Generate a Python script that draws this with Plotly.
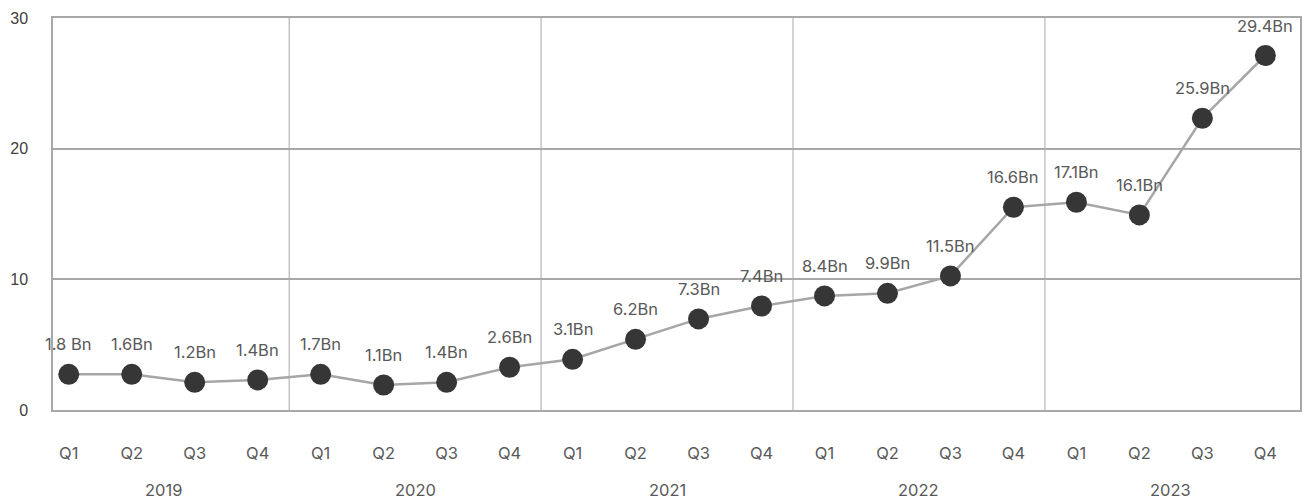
import plotly.graph_objects as go

quarters = ["Q1", "Q2", "Q3", "Q4"] * 5
years = ["2019", "2020", "2021", "2022", "2023"]
values = [2.73, 2.73, 2.12, 2.30, 2.73, 1.91, 2.12, 3.27, 3.88, 5.41,
          6.97, 7.96, 8.73, 8.93, 10.26, 15.52, 15.90, 14.93, 22.33, 27.13]
labels = ["1.8 Bn", "1.6Bn", "1.2Bn", "1.4Bn", "1.7Bn", "1.1Bn", "1.4Bn", "2.6Bn",
          "3.1Bn", "6.2Bn", "7.3Bn", "7.4Bn", "8.4Bn", "9.9Bn", "11.5Bn", "16.6Bn",
          "17.1Bn", "16.1Bn", "25.9Bn", "29.4Bn"]
y_ticks = [0, 10, 20, 30]

x = list(range(len(values)))
GRID = "#a8a8a8"
TXT = "#595959"
FONT = "Inter, Noto Sans, sans-serif"

fig = go.Figure()
fig.add_trace(go.Scatter(
    x=x, y=values, mode="lines+markers",
    line=dict(color="#a6a6a6", width=2.5),
    marker=dict(color="#363636", size=21),
    hoverinfo="skip", showlegend=False,
))

annotations = []
for xi, v, t in zip(x, values, labels):
    annotations.append(dict(x=xi, y=v, text=t, showarrow=False, yshift=30,
                            font=dict(family=FONT, size=16.5, color=TXT)))
for k, yr in enumerate(years):
    annotations.append(dict(x=4 * k + 1.5, y=0, yref="paper", yanchor="middle",
                            text=yr, showarrow=False, yshift=-80,
                            font=dict(family=FONT, size=16.5, color=TXT)))

shapes = []
for k in range(1, len(years)):
    shapes.append(dict(type="line", xref="x", yref="paper", x0=4 * k - 0.5, x1=4 * k - 0.5,
                       y0=0, y1=1, line=dict(color=GRID, width=1), layer="below"))

fig.update_layout(
    width=1310, height=502,
    margin=dict(l=53, r=8, t=18, b=92),
    paper_bgcolor="white", plot_bgcolor="white",
    annotations=annotations, shapes=shapes,
    xaxis=dict(range=[-0.25, 19.55], tickmode="array", tickvals=x, ticktext=quarters,
               showgrid=False, zeroline=False, showline=True, mirror=True,
               linecolor=GRID, linewidth=2, ticks="outside", ticklen=27,
               tickcolor="rgba(0,0,0,0)",
               tickfont=dict(family=FONT, size=16.5, color=TXT)),
    yaxis=dict(range=[0, 30], tickmode="array", tickvals=y_ticks,
               showgrid=True, gridcolor=GRID, gridwidth=2, zeroline=False,
               showline=True, mirror=True, linecolor=GRID, linewidth=1.5,
               ticks="outside", ticklen=20, tickcolor="rgba(0,0,0,0)",
               tickfont=dict(family="Liberation Sans, Arial, sans-serif", size=16, color="#404040")),
)

fig.write_html("out.html")
